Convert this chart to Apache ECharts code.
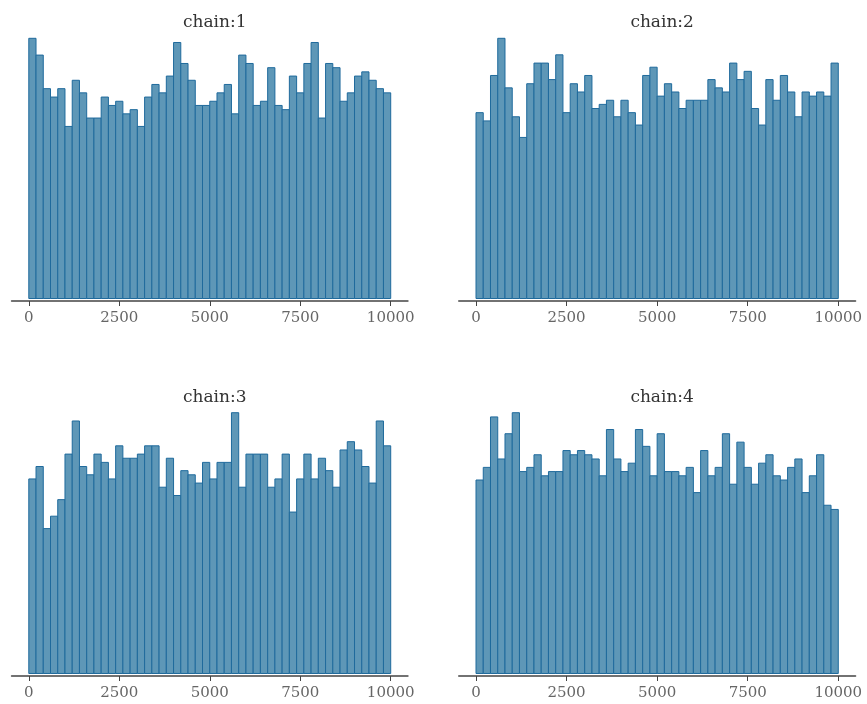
<!DOCTYPE html>
<html>
<head>
<meta charset="utf-8">
<script src="https://cdn.jsdelivr.net/npm/echarts@6/dist/echarts.min.js"></script>
<style>
html,body{margin:0;padding:0;background:#fff;}
#main{width:867px;height:704px;}
</style>
</head>
<body>
<div id="main"></div>
<script>
// Rank histogram: 50 bins of width 200 over ranks 0..10000
const binWidth = 200;
const binStarts = [0,200,400,600,800,1000,1200,1400,1600,1800,2000,2200,2400,2600,2800,3000,3200,3400,3600,3800,
  4000,4200,4400,4600,4800,5000,5200,5400,5600,5800,6000,6200,6400,6600,6800,7000,7200,7400,7600,7800,
  8000,8200,8400,8600,8800,9000,9200,9400,9600,9800];
const tickValues = [0, 2500, 5000, 7500, 10000];
const chainTitles = ['chain:1', 'chain:2', 'chain:3', 'chain:4'];

const chain1 = [62,58,50,48,50,41,52,49,43,43,48,46,47,44,45,41,48,51,49,53,
  61,56,52,46,46,47,49,51,44,58,56,46,47,55,46,45,53,49,56,61,43,56,55,47,49,53,54,52,50,49];
const chain2 = [45,43,54,63,51,44,39,52,57,57,53,59,45,52,50,54,46,47,48,44,
  48,45,42,54,56,49,52,50,46,48,48,48,53,51,50,57,53,55,46,42,53,48,54,50,44,50,49,50,49,57];
const chain3 = [47,50,35,38,42,53,61,50,48,53,51,47,55,52,52,53,55,55,45,52,
  43,49,48,46,51,47,51,51,63,45,53,53,53,45,47,53,39,47,53,47,52,49,45,54,56,54,50,46,61,55];
const chain4 = [46,49,61,51,57,62,48,49,52,47,48,48,53,52,53,52,51,47,58,51,
  48,50,58,54,47,57,48,48,47,49,43,53,47,49,57,45,55,49,45,50,52,47,46,49,51,43,47,52,40,39];

const chains = [chain1, chain2, chain3, chain4];

// layout of the four panels
const panels = [
  {left: 11.6, top: 38.3, width: 396.3, bottom: 301},
  {left: 458.8, top: 38.3, width: 396.7, bottom: 301},
  {left: 11.6, top: 412.7, width: 396.3, bottom: 676},
  {left: 458.8, top: 412.7, width: 396.7, bottom: 676}
];
const titleTops = [9, 9, 384, 384];

const FILL = '#5e97b7';
const STROKE = '#1f6a9c';
const FONT = 'DejaVu Serif';

const grids = [], xAxes = [], yAxes = [], series = [], titles = [];
chains.forEach((counts, i) => {
  const p = panels[i];
  grids.push({left: p.left, top: p.top, width: p.width, height: p.bottom - p.top, containLabel: false});
  const dmax = Math.max.apply(null, counts);
  xAxes.push({
    type: 'value', gridIndex: i, min: -475, max: 10475,
    splitLine: {show: false},
    axisLine: {show: true, onZero: false, lineStyle: {color: '#444', width: 1.6}},
    axisTick: {show: true, length: 5, customValues: tickValues, lineStyle: {color: '#444', width: 1}},
    axisLabel: {customValues: tickValues, margin: 10, color: '#666', fontFamily: FONT, fontSize: 15,
      formatter: v => String(v)}
  });
  yAxes.push({type: 'value', gridIndex: i, show: false, min: -dmax * 0.0096, max: dmax,
    splitLine: {show: false}});
  const data = counts.map((c, j) => [binStarts[j], binStarts[j] + binWidth, c]);
  series.push({
    type: 'custom', xAxisIndex: i, yAxisIndex: i, data: data,
    encode: {x: [0, 1], y: 2},
    renderItem: function (params, api) {
      const a = api.coord([api.value(0), api.value(2)]);
      const b = api.coord([api.value(1), 0]);
      return {
        type: 'rect',
        shape: {x: a[0], y: a[1], width: b[0] - a[0], height: b[1] - a[1]},
        style: {fill: FILL, stroke: STROKE, lineWidth: 1}
      };
    }
  });
  titles.push({
    text: chainTitles[i], left: p.left + p.width / 2, top: titleTops[i], textAlign: 'center',
    textStyle: {fontFamily: FONT, fontSize: 17, fontWeight: 'normal', color: '#333'}
  });
});

const chart = echarts.init(document.getElementById('main'), null, {renderer: 'canvas'});
chart.setOption({
  animation: false,
  backgroundColor: '#fff',
  title: titles,
  grid: grids,
  xAxis: xAxes,
  yAxis: yAxes,
  series: series
});
</script>
</body>
</html>
